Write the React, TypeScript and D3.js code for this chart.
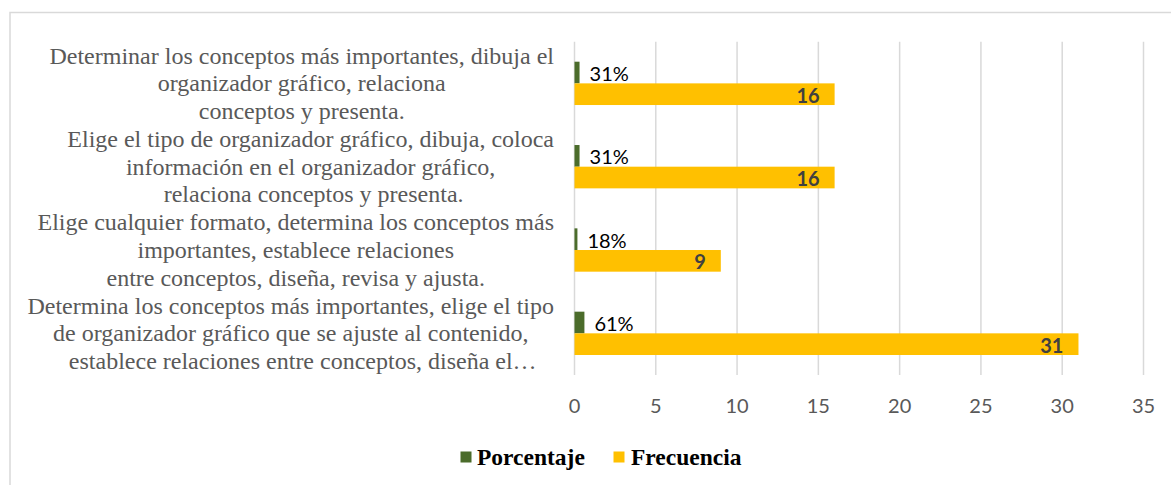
import React from "react";
import * as d3 from "d3";

const categoryLines: string[][] = [
  ["Determinar los conceptos más importantes, dibuja el", "organizador gráfico, relaciona", "conceptos y presenta."],
  ["Elige el tipo de organizador gráfico, dibuja, coloca", "información en el organizador gráfico,", "\u00a0relaciona conceptos y presenta."],
  ["Elige cualquier formato, determina los conceptos más", "importantes, establece relaciones", "entre conceptos, diseña, revisa y ajusta."],
  ["Determina los conceptos más importantes, elige el tipo", "de organizador gráfico que se ajuste al contenido,", "\u00a0\u00a0\u00a0\u00a0establece relaciones entre conceptos, diseña el…"],
];
const porcentaje = [0.31, 0.31, 0.18, 0.61];
const frecuencia = [16, 16, 9, 31];
const xTicks = [0, 5, 10, 15, 20, 25, 30, 35];
const seriesNames = ["Porcentaje", "Frecuencia"];
const seriesColors = ["#4B6C2B", "#FFC000"];

const W = 1171;
const H = 485;
const serif = "'Liberation Serif', 'Times New Roman', serif";
const sans = "Lato, 'Open Sans', sans-serif";

let ctx: CanvasRenderingContext2D | null = null;
function measure(text: string, font: string): number {
  if (!ctx) ctx = document.createElement("canvas").getContext("2d");
  if (!ctx) return text.length * 10;
  ctx.font = font;
  return ctx.measureText(text).width;
}

export default function App() {
  const x = d3.scaleLinear().domain([0, 35]).range([574.5, 1143.5]);
  const ids = categoryLines.map((_, i) => String(i));
  const y = d3.scaleBand<string>().domain(ids).range([41.7, 375]).paddingInner(0.48).paddingOuter(0.24);
  const ys = d3.scaleBand<string>().domain(seriesNames).range([0, y.bandwidth()]);
  const step = y.step();
  const lineH = step / 3;
  const labelRight = 554;
  const pct = d3.format(".0%");

  return (
    <svg width={W} height={H} style={{ position: "absolute", left: 0, top: 0, background: "#fff" }}>
      <rect x={10} y={12.5} width={W + 20} height={H + 20} fill="#fff" stroke="#d9d9d9" strokeWidth={1.5} />
      {xTicks.map((t) => (
        <line key={"g" + t} x1={x(t)} x2={x(t)} y1={y.range()[0]} y2={y.range()[1]} stroke="#d9d9d9" strokeWidth={1.5} />
      ))}
      {xTicks.map((t) => (
        <text key={"t" + t} x={x(t)} y={413} textAnchor="middle" fontFamily={sans} fontSize={20} fill="#595959">
          {t}
        </text>
      ))}
      {categoryLines.map((lines, i) => {
        const c = (y(String(i)) as number) + y.bandwidth() / 2;
        const maxW = Math.max(...lines.map((l) => measure(l, `24px ${serif}`)));
        const cx = labelRight - maxW / 2;
        return (
          <g key={"c" + i}>
            {lines.map((l, j) => (
              <text key={j} x={cx} y={c + (j - 1) * lineH + 8} textAnchor="middle" fontFamily={serif} fontSize={24} fill="#595959" style={{ whiteSpace: "pre" }}>
                {l}
              </text>
            ))}
          </g>
        );
      })}
      {categoryLines.map((_, i) => {
        const y0 = y(String(i)) as number;
        const yp = y0 + (ys("Porcentaje") as number);
        const yf = y0 + (ys("Frecuencia") as number);
        const bh = ys.bandwidth();
        return (
          <g key={"b" + i}>
            <rect x={x(0)} y={yp} width={x(porcentaje[i]) - x(0)} height={bh} fill={seriesColors[0]} />
            <rect x={x(0)} y={yf} width={x(frecuencia[i]) - x(0)} height={bh} fill={seriesColors[1]} />
            <text x={x(porcentaje[i]) + 10} y={yp + bh / 2 + 8.5} fontFamily={sans} fontSize={20} fill="#000">
              {pct(porcentaje[i])}
            </text>
            <text x={x(frecuencia[i]) - 15} y={yf + bh / 2 + 8.5} textAnchor="end" fontFamily={sans} fontSize={20} fontWeight="bold" fill="#404040">
              {frecuencia[i]}
            </text>
          </g>
        );
      })}
      <g>
        <rect x={460.5} y={451.5} width={11} height={11} fill={seriesColors[0]} />
        <text x={477} y={465} fontFamily={serif} fontSize={23.5} fontWeight="bold" fill="#000">{seriesNames[0]}</text>
        <rect x={613.5} y={451.5} width={11} height={11} fill={seriesColors[1]} />
        <text x={631} y={465} fontFamily={serif} fontSize={23.5} fontWeight="bold" fill="#000">{seriesNames[1]}</text>
      </g>
    </svg>
  );
}
